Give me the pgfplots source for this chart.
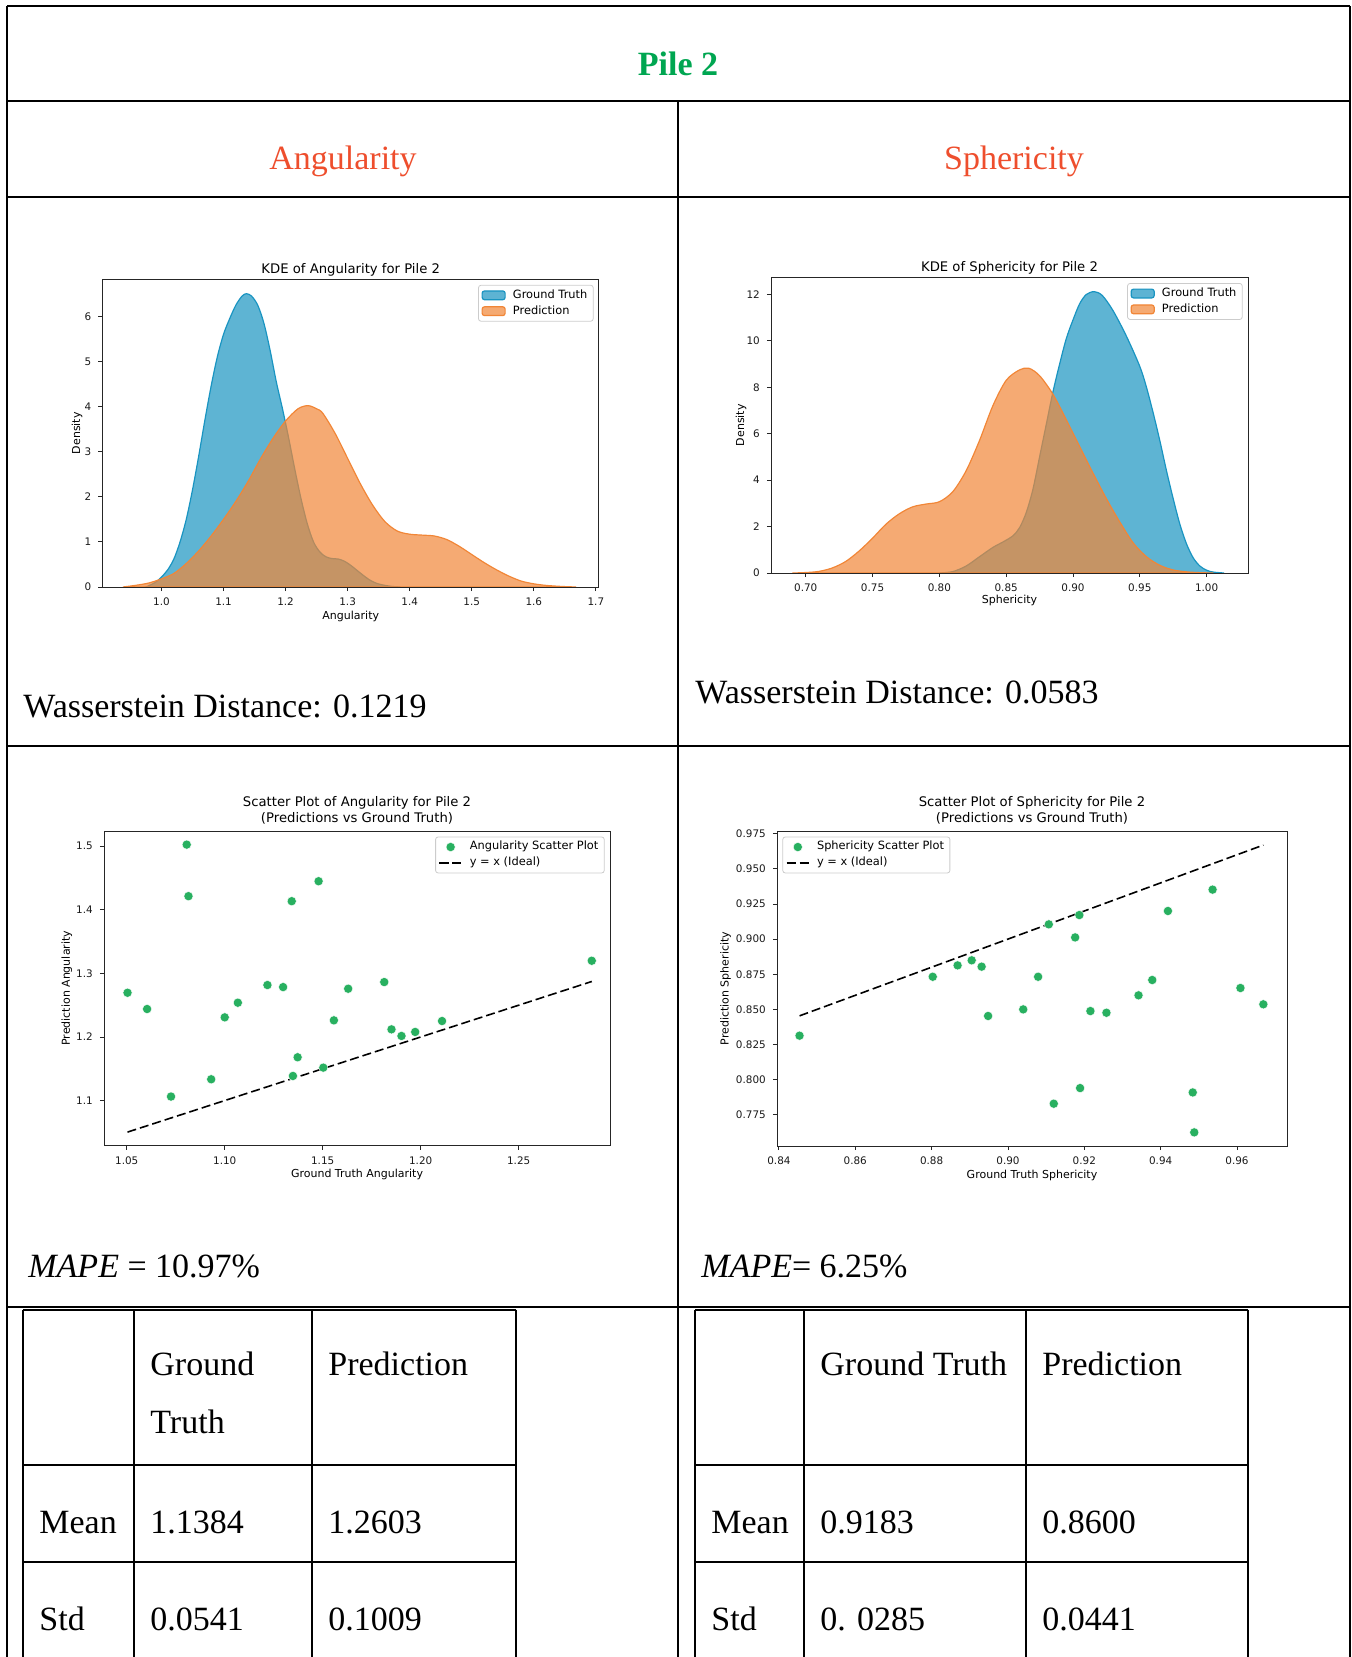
\documentclass[border=0pt]{standalone}
\usepackage{fontspec}
\setmainfont{Liberation Serif}
\newfontfamily\mpl{DejaVu Sans}
\usepackage{pgfplots}
\pgfplotsset{compat=1.18}

\definecolor{pilegreen}{RGB}{0,166,81}
\definecolor{headred}{RGB}{238,78,45}
\definecolor{kdeblue}{RGB}{25,148,193}
\definecolor{kdeorange}{RGB}{241,134,55}
\definecolor{dotgreen}{RGB}{40,176,96}

\pgfplotsset{
  mpl/.style={
    scale only axis, anchor=north west, axis on top,
    axis line style={black!85, line width=0.5pt},
    tick style={black!85, line width=0.45pt},
    tick align=outside, tick pos=left, major tick length=2.1pt,
    /pgf/number format/assume math mode=true,
    tick label style={font=\mpl\fontsize{5.2}{6}\selectfont, text=black!90},
    label style={font=\mpl\fontsize{5.5}{6.5}\selectfont},
    xlabel shift=-4.5pt,
    title style={font=\mpl\fontsize{6.6}{8}\selectfont, align=center},
    legend cell align=left,
    legend style={font=\mpl\fontsize{5.7}{6.8}\selectfont, draw=black!20,
      line width=0.4pt, rounded corners=1.2pt, fill=white, inner sep=1.5pt,
      row sep=0.9pt, nodes={inner ysep=0.6pt, inner xsep=1.4pt},
      /tikz/every odd column/.append style={column sep=2.2pt}},
  },
  kde/.style={
    title style={yshift=-7.8pt},
    legend image code/.code={\draw[##1] (0pt,-2.2pt) rectangle (11.5pt,2.2pt);},
  },
  sct/.style={
    title style={yshift=-6.2pt},
    legend image code/.code={\draw[mark repeat=2,mark phase=2,##1]
      plot coordinates {(0pt,0pt) (5.6pt,0pt) (11.2pt,0pt)};},
  },
}

\newcommand{\body}{\fontsize{17}{20}\selectfont}

\begin{document}
\begin{tikzpicture}[x=0.5pt,y=-0.5pt]
\useasboundingbox (0,0) rectangle (1352,1657);

% frame of the outer table
\draw[line width=1pt] (7,6) -- (1350,6);
\draw[line width=1pt] (7,6) -- (7,1657);
\draw[line width=1pt] (1350,6) -- (1350,1657);
\draw[line width=1pt] (678,101.5) -- (678,1657);
\foreach \yy in {101.5,196.6,746.3,1306.6}
  \draw[line width=1pt] (7,\yy) -- (1350,\yy);

% inner stat tables
\draw[line width=1pt] (23,1309.5) -- (516,1309.5);
\draw[line width=1pt] (695,1309.5) -- (1248,1309.5);
\foreach \xx in {23,134,312,516,695,804,1026,1248}
  \draw[line width=0.8pt] (\xx,1309.5) -- (\xx,1657);
\foreach \yy in {1465,1562} {
  \draw[line width=0.8pt] (23,\yy) -- (516,\yy);
  \draw[line width=0.8pt] (695,\yy) -- (1248,\yy);
}

% headings
\node[anchor=base, font=\body\bfseries, text=pilegreen, inner sep=0pt] at (678,76) {Pile 2};
\node[anchor=base, font=\body, text=headred, inner sep=0pt] at (343,169.5) {Angularity};
\node[anchor=base, font=\body, text=headred, inner sep=0pt] at (1014,169.5) {Sphericity};

\node[anchor=base west, font=\body, inner sep=0pt] at (23,717.5) {Wasserstein Distance: 0.1219};
\node[anchor=base west, font=\body, inner sep=0pt] at (695,703.5) {Wasserstein Distance: 0.0583};

\node[anchor=base west, font=\body, inner sep=0pt] at (28,1277) {\textit{MAPE} = 10.97\%};
\node[anchor=base west, font=\body, inner sep=0pt] at (701,1277) {\textit{MAPE}= 6.25\%};

% table text
\begin{scope}[every node/.style={anchor=base west, font=\body, inner sep=0pt}]
\node at (150,1375) {Ground};
\node at (150,1433) {Truth};
\node at (328,1375) {Prediction};
\node at (39,1533) {Mean};
\node at (150,1533) {1.1384};
\node at (328,1533) {1.2603};
\node at (39,1630) {Std};
\node at (150,1630) {0.0541};
\node at (328,1630) {0.1009};
\node at (820,1375) {Ground Truth};
\node at (1042,1375) {Prediction};
\node at (711,1533) {Mean};
\node at (820,1533) {0.9183};
\node at (1042,1533) {0.8600};
\node at (711,1630) {Std};
\node at (820,1630) {0. 0285};
\node at (1042,1630) {0.0441};
\end{scope}

% KDE of Angularity
\begin{axis}[mpl, kde, at={(51.25pt,-139.65pt)}, width=248.25pt, height=153.85pt,
  xmin=0.905, xmax=1.705, ymin=0, ymax=6.82,
  xtick={1.0,1.1,1.2,1.3,1.4,1.5,1.6,1.7}, ytick={0,1,2,3,4,5,6},
  xticklabel style={/pgf/number format/.cd, fixed, fixed zerofill, precision=1},
  title={KDE of Angularity for Pile 2}, xlabel={Angularity}, ylabel={Density},
  ylabel shift=-5.8pt,
  legend style={at={(1,1)}, anchor=north east, xshift=-2.7pt, yshift=-2.8pt}]
\addplot[draw=kdeblue, line width=0.6pt, fill=kdeblue, fill opacity=0.7, smooth] coordinates {
(0.975,0) (0.99,0.1) (1.0,0.22) (1.01,0.38) (1.02,0.62) (1.03,1.0) (1.04,1.5)
(1.05,2.15) (1.06,2.9) (1.07,3.7) (1.08,4.45) (1.09,5.1) (1.10,5.6) (1.11,5.95)
(1.12,6.25) (1.13,6.45) (1.137,6.5) (1.145,6.45) (1.155,6.25) (1.165,5.85)
(1.175,5.25) (1.185,4.55) (1.195,3.95) (1.205,3.3) (1.215,2.6) (1.225,1.95)
(1.235,1.4) (1.245,1.0) (1.255,0.78) (1.265,0.67) (1.275,0.63) (1.285,0.62)
(1.295,0.57) (1.305,0.48) (1.315,0.37) (1.325,0.26) (1.335,0.16) (1.345,0.09)
(1.355,0.05) (1.37,0.015) (1.385,0)} \closedcycle;
\addplot[draw=kdeorange, line width=0.6pt, fill=kdeorange, fill opacity=0.7, smooth] coordinates {
(0.938,0) (0.96,0.04) (0.98,0.09) (1.0,0.18) (1.02,0.3) (1.04,0.52) (1.06,0.8)
(1.08,1.13) (1.10,1.5) (1.12,1.9) (1.14,2.35) (1.16,2.85) (1.18,3.3) (1.20,3.68)
(1.22,3.95) (1.236,4.02) (1.25,3.95) (1.26,3.85) (1.28,3.4) (1.30,2.85) (1.32,2.3)
(1.34,1.82) (1.36,1.45) (1.38,1.24) (1.40,1.17) (1.42,1.15) (1.44,1.13) (1.46,1.05)
(1.48,0.9) (1.50,0.72) (1.52,0.54) (1.54,0.38) (1.56,0.24) (1.58,0.13) (1.60,0.07)
(1.62,0.035) (1.645,0.012) (1.668,0)} \closedcycle;
\legend{Ground Truth, Prediction}
\end{axis}

% KDE of Sphericity
\begin{axis}[mpl, kde, at={(385.5pt,-138.75pt)}, width=238.5pt, height=147.75pt,
  xmin=0.674, xmax=1.031, ymin=0, ymax=12.73,
  xtick={0.70,0.75,0.80,0.85,0.90,0.95,1.00}, ytick={0,2,4,6,8,10,12},
  xticklabel style={/pgf/number format/.cd, fixed, fixed zerofill, precision=2},
  title={KDE of Sphericity for Pile 2}, xlabel={Sphericity}, ylabel={Density},
  xlabel shift=-5.5pt, ylabel shift=-6.8pt,
  legend style={at={(1,1)}, anchor=north east, xshift=-2.7pt, yshift=-2.8pt}]
\addplot[draw=kdeblue, line width=0.6pt, fill=kdeblue, fill opacity=0.7, smooth] coordinates {
(0.800,0) (0.810,0.06) (0.820,0.3) (0.830,0.7) (0.840,1.1) (0.848,1.35) (0.855,1.6)
(0.860,1.95) (0.865,2.6) (0.870,3.6) (0.875,5.0) (0.880,6.4) (0.885,7.8) (0.890,9.0)
(0.895,10.1) (0.900,10.9) (0.905,11.6) (0.910,12.0) (0.916,12.12) (0.922,11.95)
(0.930,11.3) (0.940,10.2) (0.950,8.9) (0.955,8.0) (0.960,6.9) (0.965,5.7) (0.970,4.4)
(0.975,3.2) (0.980,2.1) (0.985,1.25) (0.990,0.65) (0.995,0.3) (1.000,0.12)
(1.005,0.04) (1.013,0)} \closedcycle;
\addplot[draw=kdeorange, line width=0.6pt, fill=kdeorange, fill opacity=0.7, smooth] coordinates {
(0.690,0) (0.700,0.02) (0.710,0.07) (0.720,0.22) (0.730,0.5) (0.740,0.95) (0.750,1.5)
(0.760,2.1) (0.770,2.55) (0.780,2.85) (0.790,2.97) (0.800,3.07) (0.810,3.5) (0.820,4.4)
(0.830,5.7) (0.840,7.2) (0.850,8.3) (0.860,8.75) (0.867,8.82) (0.875,8.5) (0.885,7.7)
(0.895,6.6) (0.905,5.45) (0.915,4.3) (0.925,3.2) (0.935,2.2) (0.945,1.3) (0.955,0.7)
(0.965,0.33) (0.975,0.13) (0.985,0.05) (0.995,0.015) (1.005,0)} \closedcycle;
\legend{Ground Truth, Prediction}
\end{axis}

% Scatter of Angularity
\begin{axis}[mpl, sct, at={(52pt,-415.5pt)}, width=253pt, height=157.25pt,
  xmin=1.0384, xmax=1.2966, ymin=1.0293, ymax=1.524,
  xtick={1.05,1.10,1.15,1.20,1.25}, ytick={1.1,1.2,1.3,1.4,1.5},
  xticklabel style={/pgf/number format/.cd, fixed, fixed zerofill, precision=2},
  yticklabel style={/pgf/number format/.cd, fixed, fixed zerofill, precision=1},
  title={Scatter Plot of Angularity for Pile 2\\(Predictions vs Ground Truth)},
  xlabel={Ground Truth Angularity}, ylabel={Prediction Angularity},
  ylabel shift=-4.8pt,
  legend style={at={(1,1)}, anchor=north east, xshift=-2.7pt, yshift=-2.8pt}]
\addplot[only marks, mark=*, mark size=2.3pt, color=dotgreen,
  mark options={fill=dotgreen, draw=white, line width=0.2pt}] coordinates {
(1.0504,1.2696) (1.0604,1.2440) (1.0726,1.1063) (1.0806,1.5026) (1.0815,1.4215)
(1.0931,1.1335) (1.1000,1.2309) (1.1067,1.2539) (1.1218,1.2817) (1.1298,1.2785)
(1.1342,1.4136) (1.1348,1.1387) (1.1372,1.1681) (1.1479,1.4450) (1.1503,1.1518)
(1.1557,1.2262) (1.1630,1.2759) (1.1814,1.2864) (1.1851,1.2120) (1.1902,1.2016)
(1.1972,1.2079) (1.2109,1.2251) (1.2873,1.3199)};
\addplot[black, line width=0.8pt, dash pattern=on 4.5pt off 2pt] coordinates {
(1.0504,1.0504) (1.2873,1.2873)};
\legend{Angularity Scatter Plot, {y = x (Ideal)}}
\end{axis}

% Scatter of Sphericity
\begin{axis}[mpl, sct, at={(388.5pt,-415.5pt)}, width=255pt, height=157.5pt,
  xmin=0.8395, xmax=0.9731, ymin=0.7528, ymax=0.9769,
  xtick={0.84,0.86,0.88,0.90,0.92,0.94,0.96},
  ytick={0.775,0.800,0.825,0.850,0.875,0.900,0.925,0.950,0.975},
  xticklabel style={/pgf/number format/.cd, fixed, fixed zerofill, precision=2},
  yticklabel style={/pgf/number format/.cd, fixed, fixed zerofill, precision=3},
  title={Scatter Plot of Sphericity for Pile 2\\(Predictions vs Ground Truth)},
  xlabel={Ground Truth Sphericity}, ylabel={Prediction Sphericity},
  ylabel shift=-4.3pt,
  legend style={at={(0,1)}, anchor=north west, xshift=2.7pt, yshift=-2.8pt}]
\addplot[only marks, mark=*, mark size=2.3pt, color=dotgreen,
  mark options={fill=dotgreen, draw=white, line width=0.2pt}] coordinates {
(0.8454,0.8313) (0.8803,0.8732) (0.8868,0.8813) (0.8905,0.8849) (0.8931,0.8804)
(0.8948,0.8453) (0.9040,0.8500) (0.9079,0.8732) (0.9107,0.9105) (0.9120,0.7829)
(0.9176,0.9012) (0.9187,0.9171) (0.9189,0.7940) (0.9216,0.8488) (0.9258,0.8476)
(0.9342,0.8600) (0.9378,0.8709) (0.9419,0.9200) (0.9484,0.7909) (0.9488,0.7625)
(0.9536,0.9352) (0.9609,0.8652) (0.9669,0.8536)};
\addplot[black, line width=0.8pt, dash pattern=on 4.5pt off 2pt] coordinates {
(0.8454,0.8454) (0.9669,0.9669)};
\legend{Sphericity Scatter Plot, {y = x (Ideal)}}
\end{axis}
\end{tikzpicture}
\end{document}
